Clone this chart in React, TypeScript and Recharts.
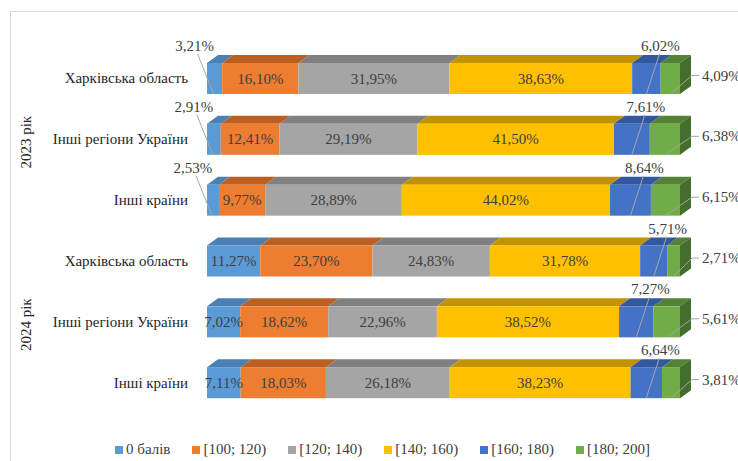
import { BarChart, Bar, XAxis, YAxis, LabelList } from "recharts";

// categories
const years = ["2023 рік", "2024 рік"];
const regions = ["Харківська область", "Інші регіони України", "Інші країни"];
const seriesNames = ["0 балів", "[100; 120)", "[120; 140)", "[140; 160)", "[160; 180)", "[180; 200]"];

// series values, rows: 2023 x3 regions, then 2024 x3 regions
const score0 = [3.21, 2.91, 2.53, 11.27, 7.02, 7.11];
const score100 = [16.1, 12.41, 9.77, 23.7, 18.62, 18.03];
const score120 = [31.95, 29.19, 28.89, 24.83, 22.96, 26.18];
const score140 = [38.63, 41.5, 44.02, 31.78, 38.52, 38.23];
const score160 = [6.02, 7.61, 8.64, 5.71, 7.27, 6.64];
const score180 = [4.09, 6.38, 6.15, 2.71, 5.61, 3.81];

const allSeries = [score0, score100, score120, score140, score160, score180];
const frontColors = ["#5B9BD5", "#ED7D31", "#A5A5A5", "#FFC000", "#4472C4", "#70AD47"];
const topColors = ["#4A80B4", "#BC5F22", "#808080", "#C29300", "#33589F", "#538135"];
const sideColor = "#446E2B";

const FONT = "Liberation Serif, Times New Roman, Tinos, DejaVu Serif, serif";
const LINE = "#A6A6A6";
const DX = 11;
const DY = 8;

const data = years.flatMap((year, yi) =>
  regions.map((region, ri) => {
    const idx = yi * regions.length + ri;
    const row: any = { key: `${year}|${region}`, region, year };
    seriesNames.forEach((s, si) => {
      row[s] = allSeries[si][idx];
    });
    return row;
  })
);

const fmt = (v: number) => v.toFixed(2).replace(".", ",") + "%";

function Bar3D(props: any) {
  const { x, y, width, height, fill, top, last } = props;
  if (width == null || height == null) return null;
  return (
    <g>
      <polygon
        points={`${x},${y} ${x + DX},${y - DY} ${x + width + DX},${y - DY} ${x + width},${y}`}
        fill={top}
      />
      <rect x={x} y={y} width={width} height={height} fill={fill} />
      {last && (
        <polygon
          points={`${x + width},${y} ${x + width + DX},${y - DY} ${x + width + DX},${y + height - DY} ${x + width},${y + height}`}
          fill={sideColor}
        />
      )}
    </g>
  );
}

function makeLabel(si: number) {
  return (props: any) => {
    const vb = props.viewBox && props.viewBox.width != null ? props.viewBox : props;
    const x = Number(vb.x);
    const y = Number(vb.y);
    const width = Number(vb.width);
    const height = Number(vb.height);
    const value = Number(props.value);
    const cx = x + width / 2;
    const cy = y + height / 2;
    const text = fmt(value);
    const common = { fontFamily: FONT, fontSize: 15, fill: "#404040" };

    if (si === 0 && value < 5) {
      const lx = cx - 20;
      const ly = y - 17;
      return (
        <g>
          <line x1={lx + 3} y1={ly + 8} x2={cx - 1} y2={y + height} stroke={LINE} />
          <text x={lx} y={ly + 5} textAnchor="middle" {...common}>{text}</text>
        </g>
      );
    }
    if (si === 4) {
      const lx = cx + 14;
      const ly = y - 17;
      return (
        <g>
          <line x1={lx - 1} y1={ly + 8} x2={cx} y2={y + height} stroke={LINE} />
          <text x={lx} y={ly + 5} textAnchor="middle" {...common}>{text}</text>
        </g>
      );
    }
    if (si === 5) {
      const lx = 702;
      const ly = cy - 3;
      return (
        <g>
          <polyline
            points={`${lx - 3},${ly} ${lx - 10},${ly} ${cx},${y + height}`}
            fill="none"
            stroke={LINE}
          />
          <text x={lx} y={ly + 5} textAnchor="start" {...common}>{text}</text>
        </g>
      );
    }
    return (
      <text x={cx} y={cy + 5} textAnchor="middle" {...common}>{text}</text>
    );
  };
}

function CategoryTick(props: any) {
  const { y, payload, index } = props;
  const [year, region] = String(payload.value).split("|");
  const showYear = index % regions.length === 1;
  return (
    <g>
      <text x={188} y={y + 5} textAnchor="end" fontFamily={FONT} fontSize={15} fill="#262626">
        {region}
      </text>
      {showYear && (
        <text
          x={0}
          y={0}
          transform={`translate(31, ${y + 3}) rotate(-90)`}
          textAnchor="middle"
          fontFamily={FONT}
          fontSize={15}
          fill="#262626"
        >
          {year}
        </text>
      )}
    </g>
  );
}

export default function App() {
  return (
    <div style={{ position: "absolute", left: 0, top: 0, width: 738, height: 461, background: "#fff", overflow: "hidden" }}>
      <div
        style={{
          position: "absolute",
          left: 10,
          top: 11,
          width: 800,
          height: 500,
          borderTop: "1px solid #D9D9D9",
          borderLeft: "1px solid #D9D9D9",
        }}
      />
      <div style={{ position: "absolute", left: 0, top: 0 }}>
        <BarChart
          width={738}
          height={461}
          data={data}
          layout="vertical"
          margin={{ top: 48, right: 58, bottom: 48, left: 0 }}
          barSize={31}
        >
          <XAxis type="number" domain={[0, 100]} hide />
          <YAxis
            type="category"
            dataKey="key"
            width={207}
            axisLine={false}
            tickLine={false}
            tick={<CategoryTick />}
            interval={0}
          />
          {seriesNames.map((s, si) => (
            <Bar
              key={s}
              dataKey={s}
              stackId="a"
              fill={frontColors[si]}
              isAnimationActive={false}
              shape={(p: any) => <Bar3D {...p} fill={frontColors[si]} top={topColors[si]} last={si === seriesNames.length - 1} />}
            >
              <LabelList dataKey={s} content={makeLabel(si)} />
            </Bar>
          ))}
        </BarChart>
      </div>
      <div
        style={{
          position: "absolute",
          left: 115,
          top: 441,
          display: "flex",
          gap: 22,
          fontFamily: FONT,
          fontSize: 15,
          color: "#404040",
          whiteSpace: "nowrap",
        }}
      >
        {seriesNames.map((s, si) => (
          <div key={s} style={{ display: "flex", alignItems: "center" }}>
            <span style={{ display: "inline-block", width: 8, height: 8, background: frontColors[si], marginRight: 3 }} />
            <span>{s}</span>
          </div>
        ))}
      </div>
    </div>
  );
}
